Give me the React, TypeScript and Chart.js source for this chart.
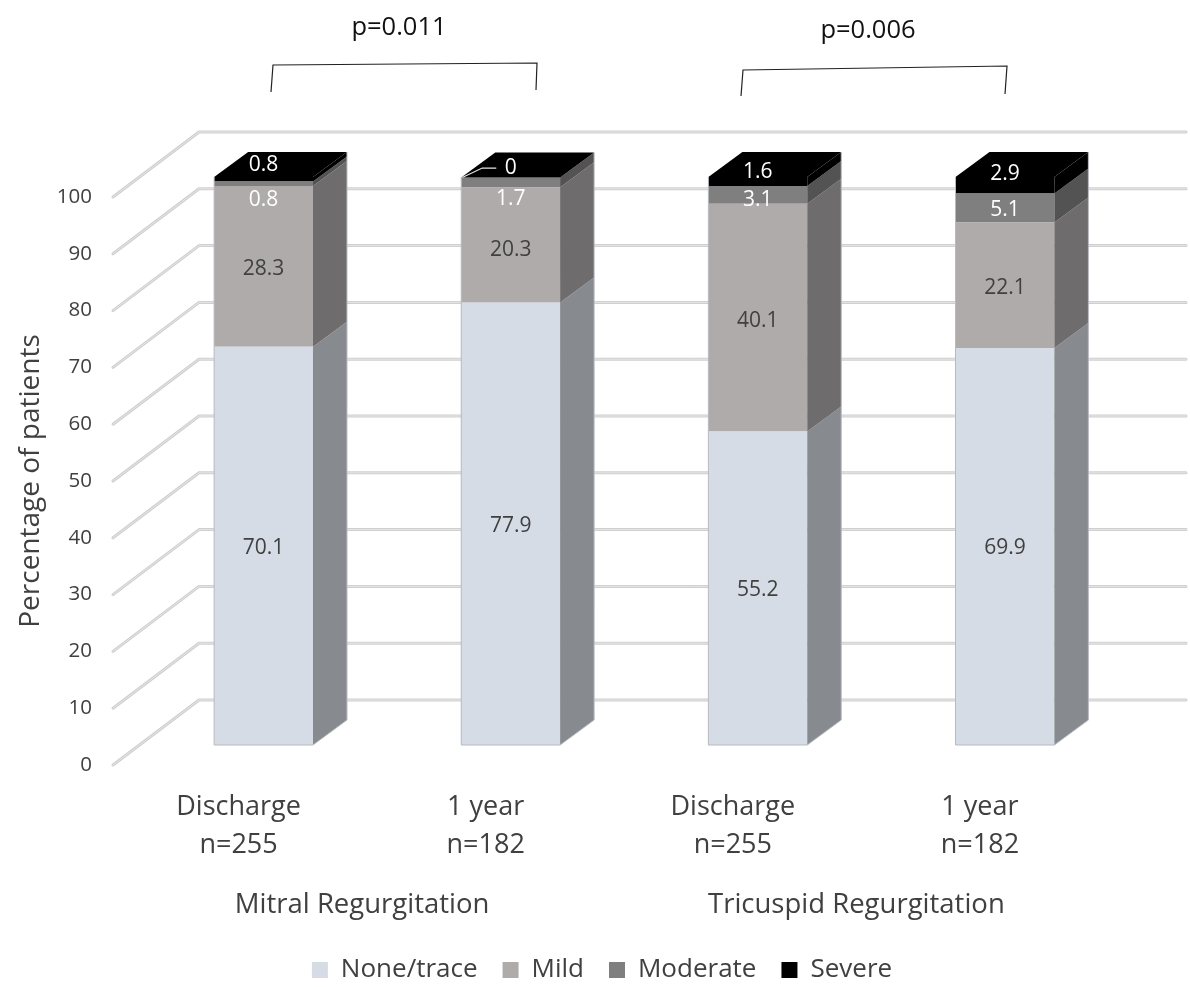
import React, { useEffect, useRef } from "react";
import { Chart, registerables } from "chart.js";

Chart.register(...registerables);

// Chart values
const categories = [
  ["Discharge", "n=255"],
  ["1 year", "n=182"],
  ["Discharge", "n=255"],
  ["1 year", "n=182"],
];
const groups = ["Mitral Regurgitation", "Tricuspid Regurgitation"];
const noneTrace = [70.1, 77.9, 55.2, 69.9];
const mild = [28.3, 20.3, 40.1, 22.1];
const moderate = [0.8, 1.7, 3.1, 5.1];
const severe = [0.8, 0, 1.6, 2.9];

// Styling of each series: front face, side face
const FRONT = ["#d6dce5", "#afabab", "#7f7f7f", "#000000"];
const SIDE = ["#878b90", "#6e6c6c", "#535353", "#000000"];
const LABEL_COLORS = ["#404040", "#404040", "#ffffff", "#ffffff"];

// Vertical label nudges for the thin top segments
const LABEL_SHIFT = [
  [2, 2, 2, 2],
  [3, 5, 3, 3],
  [16, 17, 5, 2],
  [-14, -9.5, -9.5, -11],
];

// Pseudo-3D geometry
const BAR_DX = 34;
const BAR_DY = 25;
const WALL_DX = 86;
const WALL_DY = 65;
const WALL_RIGHT = 1186;

const FONT = '"Open Sans", sans-serif';
const TEXT = "#404040";

// Significance brackets above the paired bars
const brackets = [
  { label: "p=0.011", at: [399, 28], path: [[271, 92], [273, 65], [537, 63], [536, 90]] },
  { label: "p=0.006", at: [868, 31], path: [[741, 96], [743, 70], [1007, 66], [1005, 94]] },
];

const wallPlugin = {
  id: "wall",
  beforeDatasetsDraw(chart: any) {
    const { ctx } = chart;
    const y = chart.scales.y;
    const left = chart.chartArea.left - 27;
    ctx.save();
    ctx.lineCap = "round";
    ctx.lineJoin = "round";
    for (const tick of y.ticks) {
      const py = y.getPixelForValue(tick.value);
      const stroke = () => {
        ctx.beginPath();
        ctx.moveTo(left, py);
        ctx.lineTo(left + WALL_DX, py - WALL_DY);
        ctx.lineTo(WALL_RIGHT, py - WALL_DY);
        ctx.stroke();
      };
      ctx.strokeStyle = "#cfcfcf";
      ctx.lineWidth = 3;
      stroke();
      ctx.strokeStyle = "#e6e6e6";
      ctx.lineWidth = 1;
      stroke();
    }
    ctx.restore();
  },
};

const prismPlugin = {
  id: "prism",
  afterDatasetsDraw(chart: any) {
    const { ctx } = chart;
    ctx.save();
    const count = chart.data.datasets.length;

    // Side faces and the lid of each stack
    chart.data.datasets.forEach((_: any, ds: number) => {
      chart.getDatasetMeta(ds).data.forEach((bar: any) => {
        const right = bar.x + bar.width / 2;
        ctx.fillStyle = SIDE[ds];
        ctx.beginPath();
        ctx.moveTo(right, bar.base);
        ctx.lineTo(right + BAR_DX, bar.base - BAR_DY);
        ctx.lineTo(right + BAR_DX, bar.y - BAR_DY);
        ctx.lineTo(right, bar.y);
        ctx.closePath();
        ctx.fill();
      });
    });
    chart.getDatasetMeta(count - 1).data.forEach((bar: any, i: number) => {
      const l = bar.x - bar.width / 2;
      const r = bar.x + bar.width / 2;
      ctx.fillStyle = "#000000";
      ctx.beginPath();
      ctx.moveTo(l, bar.y);
      ctx.lineTo(l + BAR_DX, bar.y - BAR_DY);
      ctx.lineTo(r + BAR_DX, bar.y - BAR_DY);
      ctx.lineTo(r, bar.y);
      ctx.closePath();
      ctx.fill();

      // Thin outline round the whole prism
      const base = chart.getDatasetMeta(0).data[i].base;
      ctx.strokeStyle = "#b7babf";
      ctx.lineWidth = 1;
      ctx.beginPath();
      ctx.moveTo(l, bar.y);
      ctx.lineTo(l, base);
      ctx.lineTo(r, base);
      ctx.lineTo(r + BAR_DX, base - BAR_DY);
      ctx.lineTo(r + BAR_DX, bar.y - BAR_DY);
      ctx.stroke();
    });

    // Value labels
    ctx.font = `21px ${FONT}`;
    ctx.textAlign = "center";
    ctx.textBaseline = "middle";
    chart.data.datasets.forEach((dataset: any, ds: number) => {
      chart.getDatasetMeta(ds).data.forEach((bar: any, i: number) => {
        ctx.fillStyle = LABEL_COLORS[ds];
        const cy = (bar.y + bar.base) / 2 + LABEL_SHIFT[ds][i];
        ctx.fillText(String(dataset.data[i]), bar.x, cy);
        // Leader line for the zero-height segment
        if (dataset.data[i] === 0) {
          const l = bar.x - bar.width / 2;
          ctx.strokeStyle = "#e6e6e6";
          ctx.lineWidth = 1.2;
          ctx.beginPath();
          ctx.moveTo(l + 1, bar.y);
          ctx.lineTo(l + 21, cy);
          ctx.lineTo(l + 35, cy);
          ctx.stroke();
        }
      });
    });

    // Significance brackets
    ctx.fillStyle = "#111111";
    ctx.font = `25.5px ${FONT}`;
    ctx.strokeStyle = "#222222";
    ctx.lineWidth = 1.2;
    for (const b of brackets) {
      ctx.fillText(b.label, b.at[0], b.at[1]);
      ctx.beginPath();
      b.path.forEach(([x, y], i) => (i ? ctx.lineTo(x, y) : ctx.moveTo(x, y)));
      ctx.stroke();
    }
    ctx.restore();
  },
};

export default function App() {
  const ref = useRef<HTMLCanvasElement>(null);

  useEffect(() => {
    const series = [
      ["None/trace", noneTrace],
      ["Mild", mild],
      ["Moderate", moderate],
      ["Severe", severe],
    ] as const;

    const chart = new Chart(ref.current as HTMLCanvasElement, {
      type: "bar",
      data: {
        labels: categories as any,
        datasets: series.map(([label, data], i) => ({
          label,
          data: [...data],
          backgroundColor: FRONT[i],
          borderWidth: 0,
          barPercentage: 0.4,
          categoryPercentage: 1,
          clip: false as any,
          xAxisID: "x",
          yAxisID: "yBar",
        })),
      },
      options: {
        responsive: false,
        animation: false,
        layout: { padding: { top: 197, left: 14, right: 0, bottom: -6 } },
        plugins: {
          tooltip: { enabled: false },
          legend: {
            position: "bottom",
            labels: {
              boxWidth: 16,
              boxHeight: 16,
              padding: 25,
              color: TEXT,
              font: { family: FONT, size: 26 },
            },
          },
        },
        scales: {
          x: {
            stacked: true,
            weight: 0,
            offset: true,
            grid: { display: false, drawTicks: false },
            border: { display: false },
            ticks: {
              autoSkip: false,
              maxRotation: 0,
              minRotation: 0,
              padding: 23.5,
              labelOffset: -25,
              color: TEXT,
              font: { family: FONT, size: 27, lineHeight: 1.41 },
            },
            afterFit(s: any) {
              s.height = 100;
            },
          },
          group: {
            type: "category",
            axis: "x",
            position: "bottom",
            weight: 1,
            offset: true,
            labels: groups,
            grid: { display: false, drawTicks: false },
            border: { display: false },
            ticks: {
              autoSkip: false,
              maxRotation: 0,
              minRotation: 0,
              padding: 24,
              labelOffset: -25,
              color: TEXT,
              font: { family: FONT, size: 27.5 },
            },
            afterFit(s: any) {
              s.height = 67;
            },
          },
          y: {
            type: "linear",
            position: "left",
            min: 0,
            max: 100,
            grid: { display: false, drawTicks: false },
            border: { display: false },
            ticks: {
              stepSize: 10,
              padding: 48,
              color: TEXT,
              font: { family: FONT, size: 20.5 },
            },
            title: {
              display: true,
              text: "Percentage of patients",
              color: TEXT,
              font: { family: FONT, size: 28 },
              padding: { top: 0, bottom: 0 },
            },
            afterFit(s: any) {
              s.width = 126;
            },
          },
          // Same units as the tick axis, lifted to the plane the bars stand on
          yBar: {
            type: "linear",
            position: "right",
            stacked: true,
            min: -3.52,
            max: 96.48,
            grid: { display: false, drawTicks: false },
            border: { display: false },
            ticks: { display: false },
            afterFit(s: any) {
              s.width = 61.5;
            },
          },
        },
      } as any,
      plugins: [wallPlugin, prismPlugin],
    });
    return () => chart.destroy();
  }, []);

  return (
    <div style={{ position: "absolute", left: 0, top: 0 }}>
      <canvas ref={ref} width={1190} height={987} style={{ display: "block" }} />
    </div>
  );
}
